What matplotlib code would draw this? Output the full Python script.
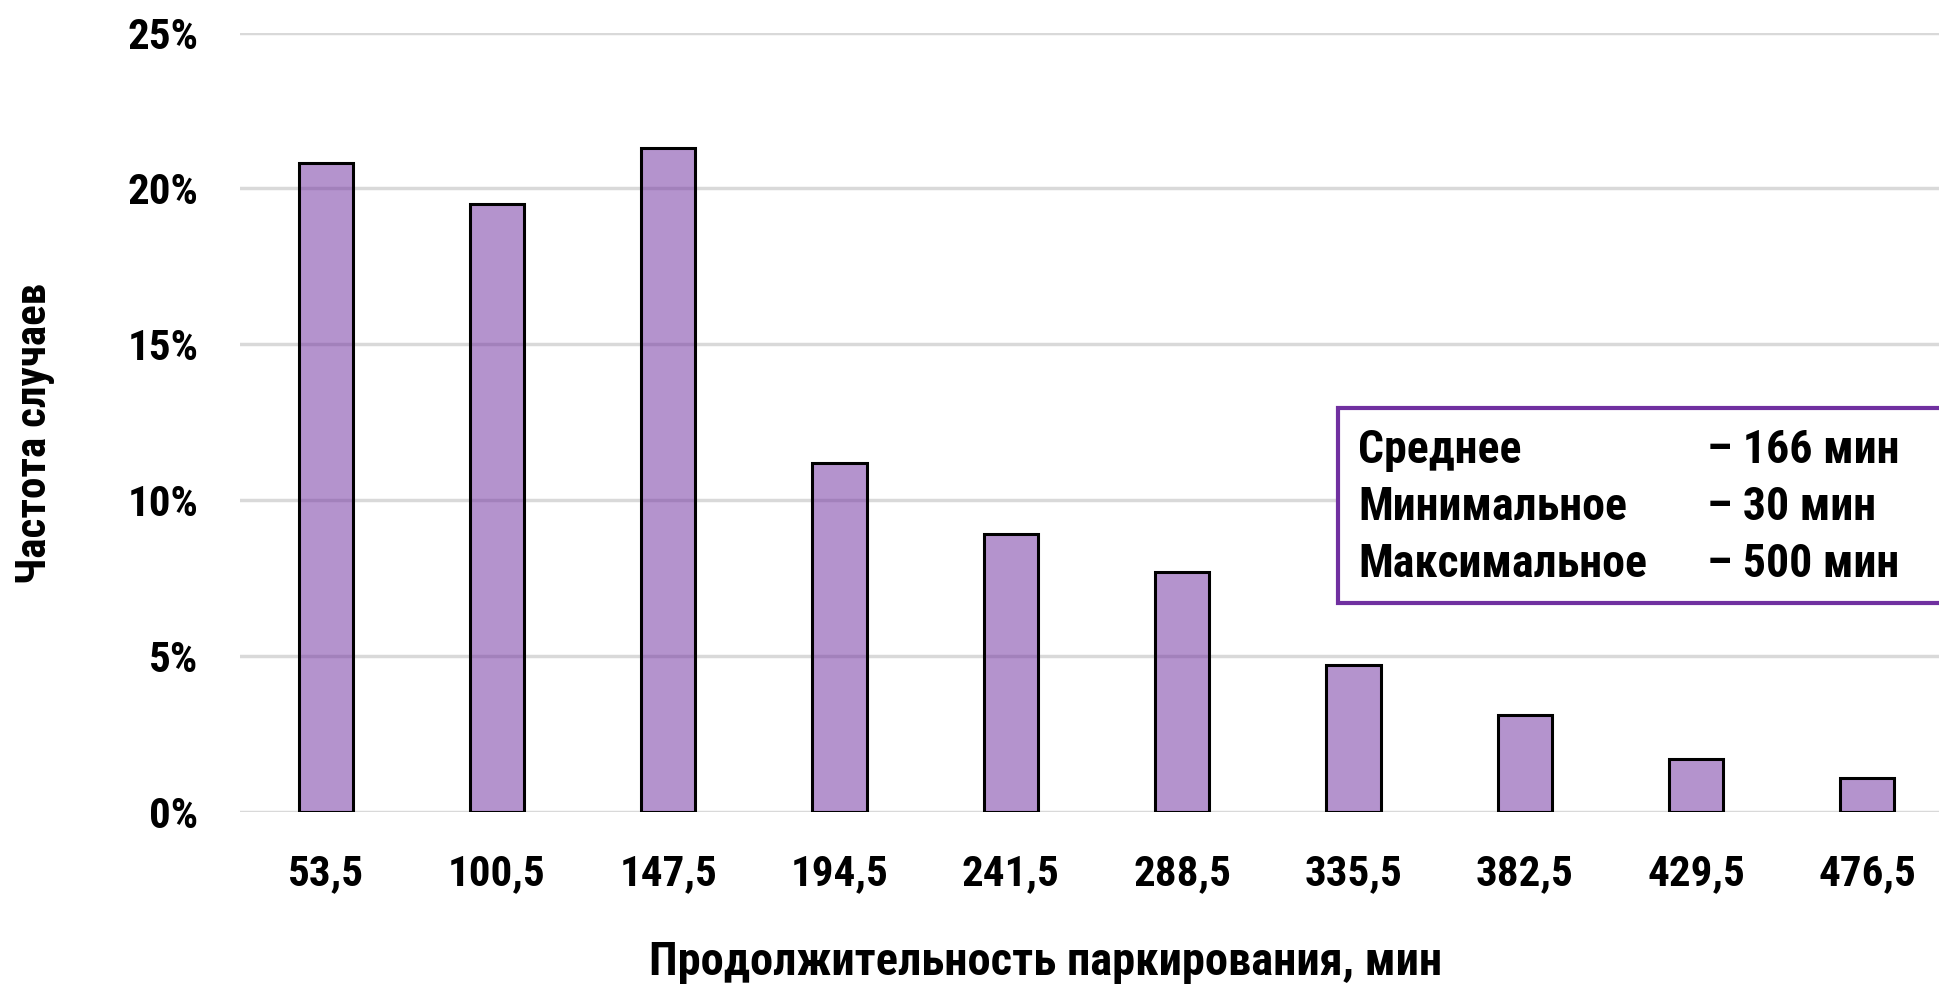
import numpy as np
import matplotlib
matplotlib.use("Agg")
import matplotlib.pyplot as plt
import matplotlib.ticker as mtick
from matplotlib.patches import Rectangle

# данные гистограммы
categories = ["53,5", "100,5", "147,5", "194,5", "241,5",
              "288,5", "335,5", "382,5", "429,5", "476,5"]
shares = [0.208, 0.195, 0.213, 0.112, 0.089, 0.077, 0.047, 0.031, 0.017, 0.011]
stat_names = ["Среднее", "Минимальное", "Максимальное"]
stat_values = ["– 166 мин", "– 30 мин", "– 500 мин"]

# узкий шрифт (как Arial Narrow), с запасными вариантами
NARROW = ['Roboto Condensed', 'PT Sans Narrow', 'Liberation Sans', 'DejaVu Sans']
plt.rcParams['font.family'] = NARROW
plt.rcParams['font.weight'] = 'bold'

fig = plt.figure(figsize=(19.39, 9.86), dpi=100)
ax = fig.add_axes([0.1238, 0.1765, 0.8834, 0.7905])

x = np.arange(len(categories))
ax.bar(x, shares, width=0.317, color='#7030A0', alpha=0.52,
       edgecolor='none', zorder=2)
ax.bar(x, shares, width=0.317, color='none',
       edgecolor='black', linewidth=2.2, zorder=3)

ax.set_xlim(-0.5, len(categories) - 0.5)
ax.set_ylim(0, 0.25)
ax.set_yticks(np.arange(0, 0.26, 0.05))
ax.yaxis.set_major_formatter(mtick.FuncFormatter(lambda v, p: f"{v * 100:.0f}%"))
ax.set_xticks(x)
ax.set_xticklabels(categories)
ax.tick_params(axis='both', length=0, labelsize=31)
ax.tick_params(axis='y', pad=30)
ax.tick_params(axis='x', pad=30)

ax.grid(axis='y', color='#D9D9D9', linewidth=2.5, zorder=0)
ax.set_axisbelow(True)
for s in ax.spines.values():
    s.set_visible(False)

fig.text(1046 / 1939, 1 - 962 / 986, "Продолжительность паркирования, мин",
         fontsize=33.5, fontweight='bold', ha='center', va='center')
fig.text(35 / 1939, 1 - 433 / 986, "Частота случаев", rotation=90, fontsize=31,
         fontweight='bold', ha='center', va='center')

# блок со статистикой
fig.patches.append(Rectangle((0.690, 0.3884), 0.35, 0.1978,
                             transform=fig.transFigure, facecolor='white',
                             edgecolor='#7030A0', linewidth=3, zorder=5))
rows_y = [1 - 450 / 986, 1 - 507 / 986, 1 - 564 / 986]
for name, val, yy in zip(stat_names, stat_values, rows_y):
    fig.text(1358 / 1939, yy, name, fontsize=33, fontweight='bold',
             va='center', ha='left', zorder=6)
    fig.text(1707 / 1939, yy, val, fontsize=33, fontweight='bold',
             va='center', ha='left', zorder=6)

fig.savefig("out.png", dpi=100)
